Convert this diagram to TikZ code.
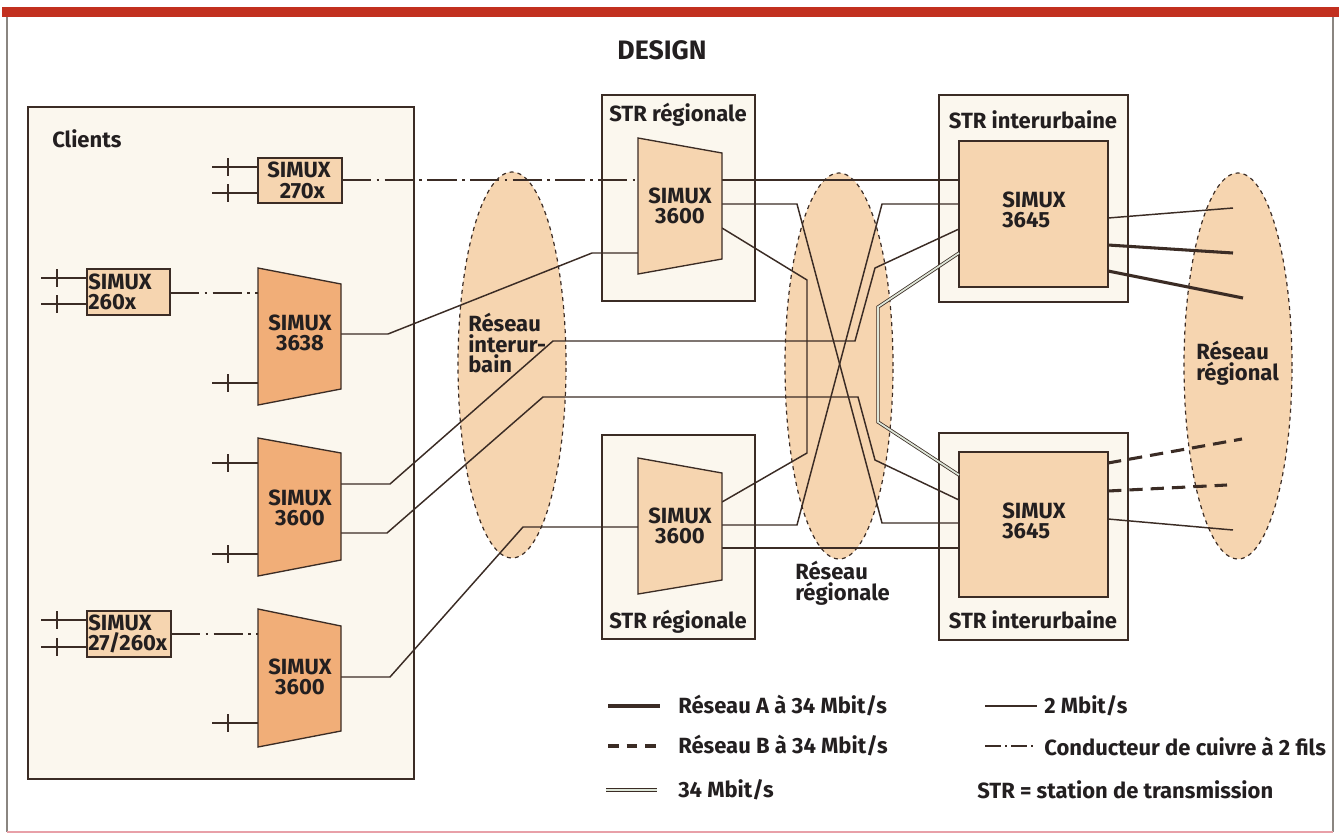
\documentclass[tikz,border=0pt]{standalone}
\usepackage{fontspec}
\setmainfont{Fira Sans}
\usetikzlibrary{shapes.geometric}
\definecolor{ln}{HTML}{3B2C25}
\definecolor{tx}{HTML}{231F20}
\definecolor{cream}{HTML}{FBF7EE}
\definecolor{lorange}{HTML}{F6D5B0}
\definecolor{dorange}{HTML}{F1AE78}
\definecolor{redbar}{HTML}{C2301F}
\definecolor{framec}{HTML}{8A8580}
\definecolor{pinkc}{HTML}{E8A0A8}
\definecolor{dblc}{HTML}{DDE6D8}
\begin{document}
\begin{tikzpicture}[x=0.75pt,y=-0.75pt,
  font=\bfseries\fontsize{16.5}{15.5}\selectfont,
  wire/.style={draw=ln, line width=1.1pt},
  thickwire/.style={draw=ln, line width=2.3pt},
  dashwire/.style={draw=ln, line width=2.3pt, dash pattern=on 10pt off 6pt},
  copper/.style={draw=ln, line width=1.1pt, dash pattern=on 22pt off 4pt on 2pt off 4pt},
  dbl/.style={draw=ln, line width=0.6pt, double=dblc, double distance=1.3pt},
  box/.style={draw=ln, line width=0.9pt, inner sep=0pt},
  trap/.style={draw=ln, line width=1pt, fill=dorange},
  trapl/.style={draw=ln, line width=1pt, fill=lorange},
  net/.style={ellipse, draw=ln, dashed, line width=0.9pt, fill=lorange, minimum width=81pt, minimum height=289.5pt, inner sep=0pt},
  txt/.style={inner sep=0pt, align=center, text=tx},
  ltxt/.style={inner sep=0pt, align=left, text=tx}
]
\useasboundingbox (0,0) rectangle (1339,836);
% frame
\fill[redbar] (2,7) rectangle (1339,17);
\draw[framec, line width=0.8pt] (7,17) -- (7,832);
\draw[framec, line width=0.8pt] (1333,17) -- (1333,832);
\draw[pinkc, line width=1.2pt] (7,832) -- (1333,832);
\node[txt, font=\bfseries\fontsize{20}{24}\selectfont] (title) at (662,50) {DESIGN};

% boxes
\node[box, fill=cream, minimum width=289.5pt, minimum height=504pt] (clients) at (221,443) {};
\node[ltxt, anchor=west] (clientslbl) at (52,139) {Clients};
\node[box, fill=cream, minimum width=114.75pt, minimum height=154.5pt] (strT) at (678.5,198) {};
\node[box, fill=cream, minimum width=114.75pt, minimum height=153pt] (strB) at (678.5,537) {};
\node[box, fill=cream, minimum width=141.75pt, minimum height=155.25pt] (striT) at (1033.5,198.5) {};
\node[box, fill=cream, minimum width=141.75pt, minimum height=155.25pt] (striB) at (1033.5,536.5) {};
\node[txt] (strTl) at (678,115) {STR régionale};
\node[txt] (strBl) at (678,622) {STR régionale};
\node[txt] (striTl) at (1033,120) {STR interurbaine};
\node[txt] (striBl) at (1033,620) {STR interurbaine};

% networks
\node[net] (ell1) at (512,365) {};
\node[net] (ell2) at (839,366) {};
\node[net] (ell3) at (1238,366) {};
\node[ltxt, anchor=west] (ell1l) at (468,343) {Réseau\\interur-\\bain};
\node[ltxt, anchor=west] (ell2l) at (795,583) {Réseau\\régionale};
\node[ltxt, anchor=west] (ell3l) at (1196,363) {Réseau\\régional};

% small SIMUX boxes
\node[box, fill=lorange, minimum width=63pt, minimum height=33.75pt] (b270) at (300,180.5) {};
\node[txt] (b270l) at (299,180.5) {SIMUX\\\hspace*{5pt}270x};
\node[box, fill=lorange, minimum width=62.25pt, minimum height=34.5pt] (b260) at (128.5,292) {};
\node[ltxt, anchor=west] (b260l) at (88,292) {SIMUX\\260x};
\node[box, fill=lorange, minimum width=63pt, minimum height=34.5pt] (b27) at (129,634) {};
\node[ltxt, anchor=west] (b27l) at (88,634) {SIMUX\\27/260x};

% 3645 inner boxes
\node[box, fill=lorange, minimum width=111.75pt, minimum height=109.5pt] (m3645T) at (1033.5,214) {};
\node[ltxt, anchor=west] (m3645Tl) at (1002,210) {SIMUX\\3645};
\node[box, fill=lorange, minimum width=111.75pt, minimum height=108.75pt] (m3645B) at (1033.5,524.5) {};
\node[ltxt, anchor=west] (m3645Bl) at (1002,521) {SIMUX\\3645};

% ports
\coordinate (p270o) at (342,180);
\coordinate (p260o) at (170,293);
\coordinate (p27o) at (171,634);
\coordinate (c3638i) at (258,293);
\coordinate (c3638o) at (341,334);
\coordinate (cAo1) at (341,484);
\coordinate (cAo2) at (341,533);
\coordinate (cBi) at (258,634);
\coordinate (cBo) at (341,677);
\coordinate (rTi1) at (638,180);
\coordinate (rTo1) at (722,180);
\coordinate (rTi2) at (638,253);
\coordinate (rTo2) at (722,204);
\coordinate (rTo3) at (722,228);
\coordinate (rBi) at (638,527);
\coordinate (rBo1) at (722,502);
\coordinate (rBo2) at (722,525);
\coordinate (rBo3) at (722,548);
\coordinate (iT1) at (959,180);
\coordinate (iT2) at (959,204);
\coordinate (iT3) at (959,229);
\coordinate (iT4) at (959,253);
\coordinate (iB1) at (959,475);
\coordinate (iB2) at (959,500);
\coordinate (iB3) at (959,523);
\coordinate (iB4) at (959,548);
\coordinate (oT1) at (1108,218);
\coordinate (oT2) at (1108,245);
\coordinate (oT3) at (1108,271);
\coordinate (oB1) at (1108,463);
\coordinate (oB2) at (1108,491);
\coordinate (oB3) at (1108,519);
\coordinate (eT1) at (1233,208);
\coordinate (eT2) at (1233,253);
\coordinate (eT3) at (1243,298);
\coordinate (eB1) at (1242,439);
\coordinate (eB2) at (1227,485);
\coordinate (eB3) at (1233,530);

% client-side input stubs with ticks
\draw[wire] (258,167) -- ++(-46,0) ++(16,-9) -- ++(0,18);
\draw[wire] (258,193) -- ++(-46,0) ++(16,-9) -- ++(0,18);
\draw[wire] (87,278) -- ++(-46,0) ++(16,-9) -- ++(0,18);
\draw[wire] (87,304) -- ++(-46,0) ++(16,-9) -- ++(0,18);
\draw[wire] (87,620) -- ++(-46,0) ++(16,-9) -- ++(0,18);
\draw[wire] (87,647) -- ++(-46,0) ++(16,-9) -- ++(0,18);
\draw[wire] (258,383) -- ++(-46,0) ++(16,-9) -- ++(0,18);
\draw[wire] (258,463) -- ++(-46,0) ++(16,-9) -- ++(0,18);
\draw[wire] (258,554) -- ++(-46,0) ++(16,-9) -- ++(0,18);
\draw[wire] (258,723) -- ++(-46,0) ++(16,-9) -- ++(0,18);

% copper lines
\draw[copper] (p270o) -- (rTi1);
\draw[copper] (p260o) -- (c3638i);
\draw[copper] (p27o) -- (cBi);

% 2 Mbit/s lines
\draw[wire] (rTo1) -- (iT1);
\draw[wire] (c3638o) -- (388,334) -- (592,253) -- (rTi2);
\draw[wire] (cAo1) -- (390,484) -- (553,341) -- (855,341) -- (875,268) -- (iT3);
\draw[wire] (cAo2) -- (387,533) -- (543,397) -- (858,397) -- (875,460) -- (iB2);
\draw[wire] (cBo) -- (390,677) -- (523,527) -- (rBi);
\draw[wire] (rTo2) -- (797,204) -- (882,523) -- (iB3);
\draw[wire] (rTo3) -- (807,280) -- (807,453) -- (rBo1);
\draw[wire] (rBo2) -- (797,525) -- (882,204) -- (iT2);
\draw[wire] (rBo3) -- (iB4);
\draw[dbl] (iT4) -- (878,307) -- (878,422) -- (iB1);
\draw[wire] (oT1) -- (eT1);
\draw[thickwire] (oT2) -- (eT2);
\draw[thickwire] (oT3) -- (eT3);
\draw[dashwire] (oB1) -- (eB1);
\draw[dashwire] (oB2) -- (eB2);
\draw[wire] (oB3) -- (eB3);

% trapezoids
\filldraw[trap] (258,268) -- (341,284) -- (341,389) -- (258,405) -- cycle;
\node[txt] (t3638) at (300,333) {SIMUX\\3638};
\filldraw[trap] (258,438) -- (341,453) -- (341,560) -- (258,576) -- cycle;
\node[txt] (tA) at (300,508) {SIMUX\\3600};
\filldraw[trap] (258,609) -- (341,626) -- (341,731) -- (258,747) -- cycle;
\node[txt] (tB) at (300,677) {SIMUX\\3600};
\filldraw[trapl] (638,138) -- (722,153) -- (722,259) -- (638,274) -- cycle;
\node[txt] (rT) at (680,206) {SIMUX\\3600};
\filldraw[trapl] (638,458) -- (722,473) -- (722,580) -- (638,594) -- cycle;
\node[txt] (rB) at (680,526) {SIMUX\\3600};

% legend
\coordinate (lA1) at (608,706); \coordinate (lA2) at (660,706);
\coordinate (lB1) at (608,746); \coordinate (lB2) at (660,746);
\coordinate (lC1) at (606,790); \coordinate (lC2) at (657,790);
\coordinate (lD1) at (985,706); \coordinate (lD2) at (1037,706);
\coordinate (lE1) at (985,746); \coordinate (lE2) at (1037,746);
\draw[thickwire] (lA1) -- (lA2);
\draw[draw=ln, line width=2.3pt, dash pattern=on 8pt off 6pt] (lB1) -- (lB2);
\draw[dbl] (lC1) -- (lC2);
\draw[wire] (lD1) -- (lD2);
\draw[draw=ln, line width=1.1pt, dash pattern=on 12pt off 3pt on 1.5pt off 3pt] (lE1) -- (lE2);
\node[ltxt, anchor=west] (legA) at (678,706) {Réseau A à 34 Mbit/s};
\node[ltxt, anchor=west] (legB) at (678,746) {Réseau B à 34 Mbit/s};
\node[ltxt, anchor=west] (legC) at (678,790) {34 Mbit/s};
\node[ltxt, anchor=west] (legD) at (1044,706) {2 Mbit/s};
\node[ltxt, anchor=west] (legE) at (1044,746) {Conducteur de cuivre à 2 fils};
\node[ltxt, anchor=west] (legF) at (977,790) {STR = station de transmission};
\end{tikzpicture}
\end{document}
